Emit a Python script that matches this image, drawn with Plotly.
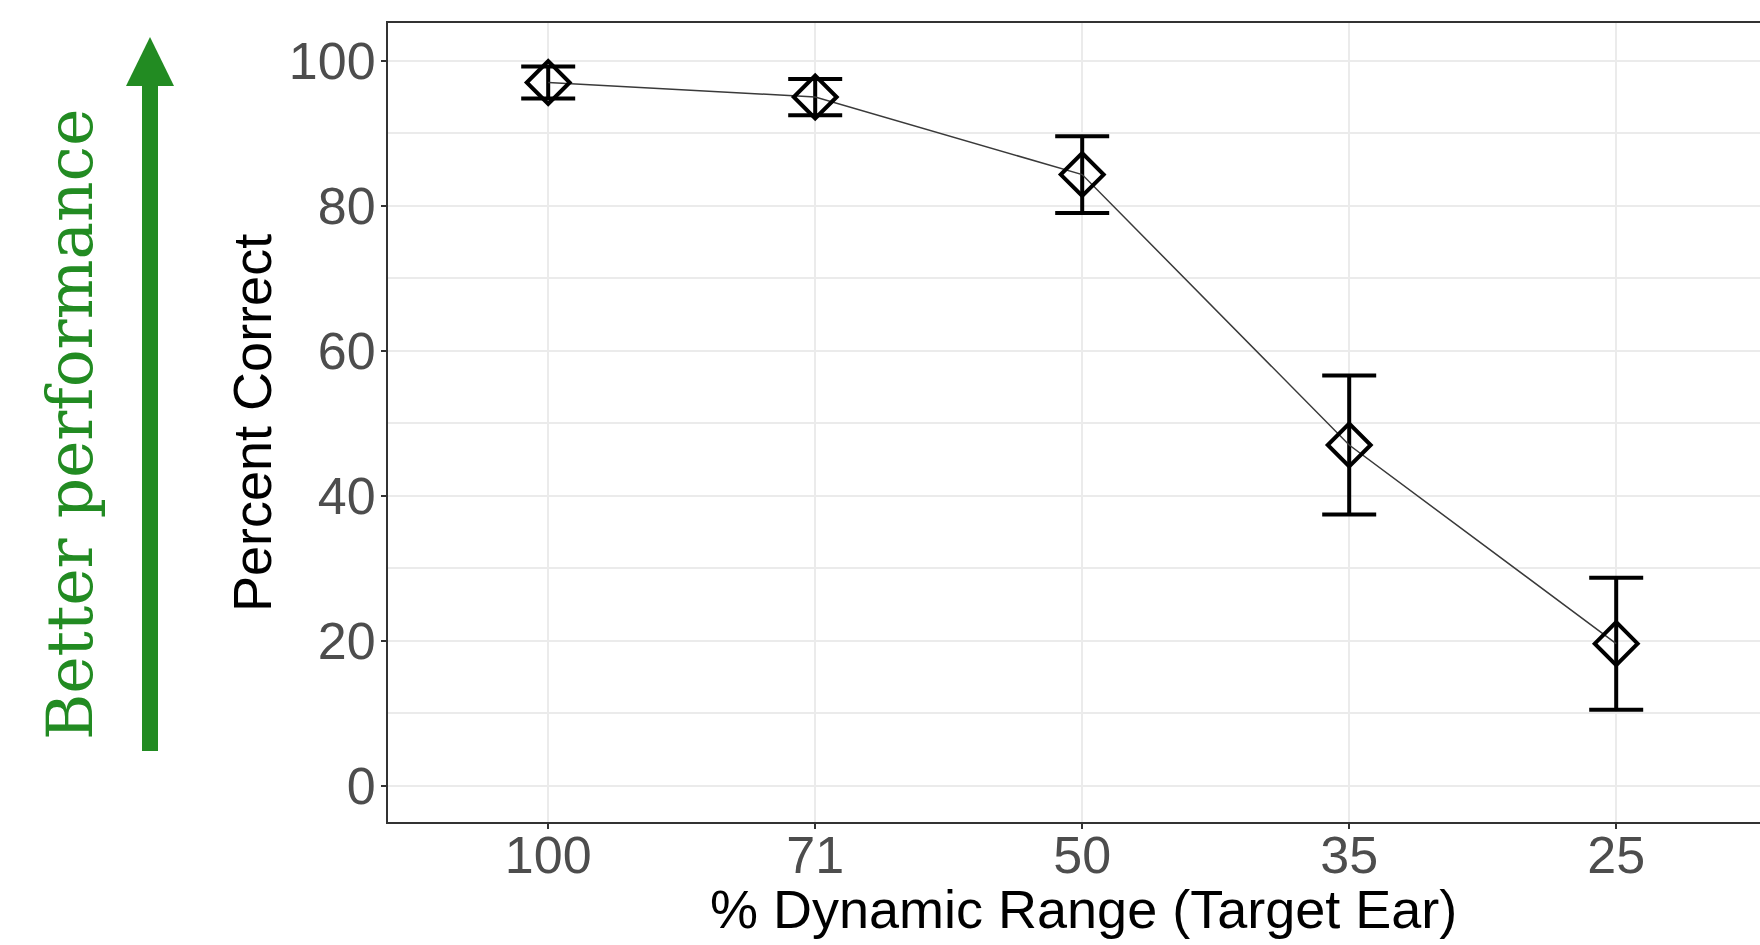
import plotly.graph_objects as go

# ---- data ----
categories = ["100", "71", "50", "35", "25"]
percent_correct = [97.0, 95.0, 84.3, 47.0, 19.6]
error_sd = [2.2, 2.5, 5.3, 9.6, 9.1]
y_ticks = [0, 20, 40, 60, 80, 100]

W, H = 1760, 945
ML, MR, MT, MB = 388, 0, 23, 945 - 822
PW = W - ML - MR
PH = H - MT - MB


def px2x(px):
    return (px - ML) / PW


def py2y(py):
    return (H - MB - py) / PH


fig = go.Figure()

fig.add_trace(go.Scatter(
    x=categories, y=percent_correct,
    mode="lines+markers",
    line=dict(color="#3a3a3a", width=1.5),
    marker=dict(symbol="diamond-open", size=33, color="black",
                line=dict(width=4, color="black")),
    error_y=dict(type="data", array=error_sd, visible=True,
                 color="black", thickness=4, width=27),
    showlegend=False,
))

green = "#228B22"

# arrow shaft and head
fig.add_shape(type="rect", xref="paper", yref="paper",
              x0=px2x(142), x1=px2x(158), y0=py2y(751), y1=py2y(84),
              fillcolor=green, line=dict(width=0), layer="above")
fig.add_shape(type="path", xref="paper", yref="paper",
              path=f"M {px2x(126)} {py2y(86)} L {px2x(150)} {py2y(37)} L {px2x(174)} {py2y(86)} Z",
              fillcolor=green, line=dict(width=0), layer="above")

fig.add_annotation(text="Better performance", xref="paper", yref="paper",
                   x=px2x(70), y=py2y(425), showarrow=False, textangle=-90,
                   xanchor="center", yanchor="middle",
                   font=dict(family="DejaVu Serif", size=63, color=green))

fig.add_annotation(text="Percent Correct", xref="paper", yref="paper",
                   x=px2x(252), y=py2y(423), showarrow=False, textangle=-90,
                   xanchor="center", yanchor="middle",
                   font=dict(family="Liberation Sans, Arial", size=54, color="black"))

fig.add_annotation(text="% Dynamic Range (Target Ear)", xref="paper", yref="paper",
                   x=px2x(1083), y=py2y(909), showarrow=False,
                   xanchor="center", yanchor="middle",
                   font=dict(family="Liberation Sans, Arial", size=54, color="black"))

fig.update_layout(
    width=W, height=H,
    margin=dict(l=ML, r=MR, t=MT, b=MB, autoexpand=False),
    paper_bgcolor="white", plot_bgcolor="white",
    font=dict(family="Liberation Sans, Arial"),
    xaxis=dict(
        type="category", range=[-0.6, -0.6 + PW / 267.0],
        showgrid=True, gridcolor="#EBEBEB", gridwidth=2,
        showline=True, mirror=True, linecolor="#333333", linewidth=2,
        ticks="outside", ticklen=5, tickwidth=2, tickcolor="#333333",
        tickfont=dict(size=52, color="#4D4D4D"),
        ticklabelstandoff=-18,
        zeroline=False,
    ),
    yaxis=dict(
        range=[-5, -5 + PH / 7.25],
        tickvals=y_ticks,
        showgrid=True, gridcolor="#EBEBEB", gridwidth=2,
        minor=dict(dtick=10, tick0=0, showgrid=True, gridcolor="#EBEBEB", gridwidth=1.5),
        showline=True, mirror=False, linecolor="#333333", linewidth=2,
        ticks="outside", ticklen=5, tickwidth=2, tickcolor="#333333",
        tickfont=dict(size=52, color="#4D4D4D"),
        ticklabelstandoff=-5,
        zeroline=False,
    ),
)

fig.write_html(
    "out.html",
    config={"displayModeBar": False},
    post_script="document.body.style.margin='0';document.documentElement.style.overflow='hidden';document.body.style.overflow='hidden';",
)
